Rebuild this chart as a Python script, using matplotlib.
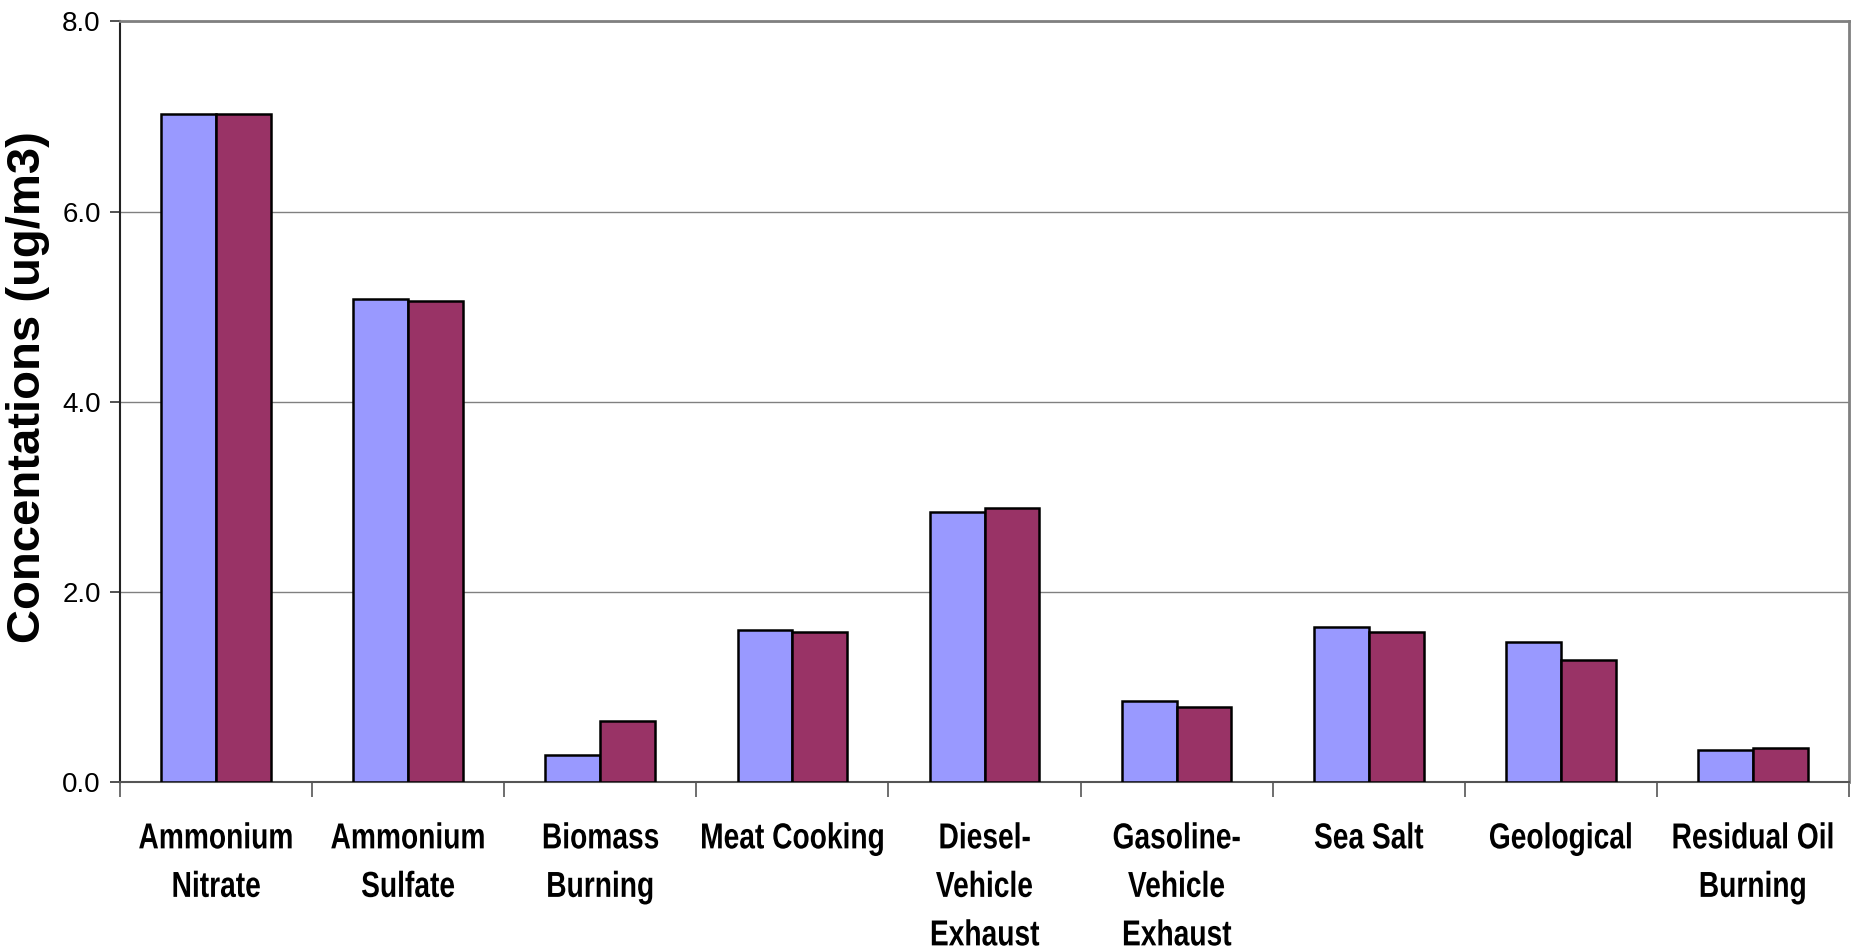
import matplotlib
matplotlib.use("Agg")
import matplotlib.pyplot as plt
import matplotlib.patheffects as pe
from matplotlib.transforms import Affine2D
import numpy as np

# Source categories and the two series (ug/m3)
categories = [
    "Ammonium\nNitrate", "Ammonium\nSulfate", "Biomass\nBurning", "Meat Cooking",
    "Diesel-\nVehicle\nExhaust", "Gasoline-\nVehicle\nExhaust", "Sea Salt",
    "Geological", "Residual Oil\nBurning",
]
series_a = [7.03, 5.08, 0.29, 1.60, 2.84, 0.86, 1.63, 1.48, 0.34]
series_b = [7.03, 5.06, 0.65, 1.58, 2.89, 0.79, 1.58, 1.29, 0.36]
y_ticks = [0.0, 2.0, 4.0, 6.0, 8.0]

BLUE = "#9999FF"
PLUM = "#993366"
GRID = "#808080"


class Condense(pe.AbstractPathEffect):
    """Squeeze each text line horizontally about its own centre (no narrow font here)."""

    def __init__(self, sx):
        super().__init__()
        self.sx = sx

    def draw_path(self, renderer, gc, tpath, affine, rgbFace=None):
        ext = tpath.get_extents()
        cx = (ext.x0 + ext.x1) / 2
        squeeze = Affine2D().translate(-cx, 0).scale(self.sx, 1).translate(cx, 0)
        renderer.draw_path(gc, tpath, squeeze + affine, rgbFace)


plt.rcParams["font.family"] = ["Liberation Sans", "DejaVu Sans"]

fig = plt.figure(figsize=(18.56, 9.51), dpi=100)
ax = fig.add_axes([0.0647, 0.1772, 0.9315, 0.8002])

x = np.arange(len(categories))
w = 1 / 3.5  # Excel-style 150% gap width
ax.bar(x - w / 2, series_a, w, color=BLUE, edgecolor="black", linewidth=1.8, zorder=3)
ax.bar(x + w / 2, series_b, w, color=PLUM, edgecolor="black", linewidth=1.8, zorder=3)

ax.set_xlim(-0.5, len(categories) - 0.5)
ax.set_ylim(0, 8)
ax.set_yticks(y_ticks)
ax.set_yticklabels([f"{v:.1f}" for v in y_ticks], fontsize=20)
ax.yaxis.grid(True, color=GRID, linewidth=1.0, zorder=0)
ax.tick_params(axis="y", direction="out", length=7, width=1.2, pad=7, color="#333333")

# category boundaries get the tick marks, centres get the labels
ax.set_xticks(np.arange(len(categories) + 1) - 0.5)
ax.set_xticklabels([])
ax.tick_params(axis="x", which="major", direction="out", length=11, width=1.2, color="#555555")
ax.set_xticks(x, minor=True)
labels = ax.set_xticklabels(categories, minor=True, fontsize=26, fontweight="bold",
                            linespacing=1.5, va="top")
for t in labels:
    t.set_path_effects([Condense(0.78)])
ax.tick_params(axis="x", which="minor", length=0, pad=28)

ax.spines["left"].set_color("#222222")
ax.spines["left"].set_linewidth(1.5)
ax.spines["bottom"].set_color("#555555")
ax.spines["bottom"].set_linewidth(1.5)
ax.spines["top"].set_color(GRID)
ax.spines["top"].set_linewidth(2)
ax.spines["right"].set_color(GRID)
ax.spines["right"].set_linewidth(2)

ax.set_ylabel("Concentations (ug/m3)", fontsize=34, fontweight="bold")
ax.yaxis.set_label_coords(-0.0405, 0.52)

fig.savefig("out.png", dpi=100)
